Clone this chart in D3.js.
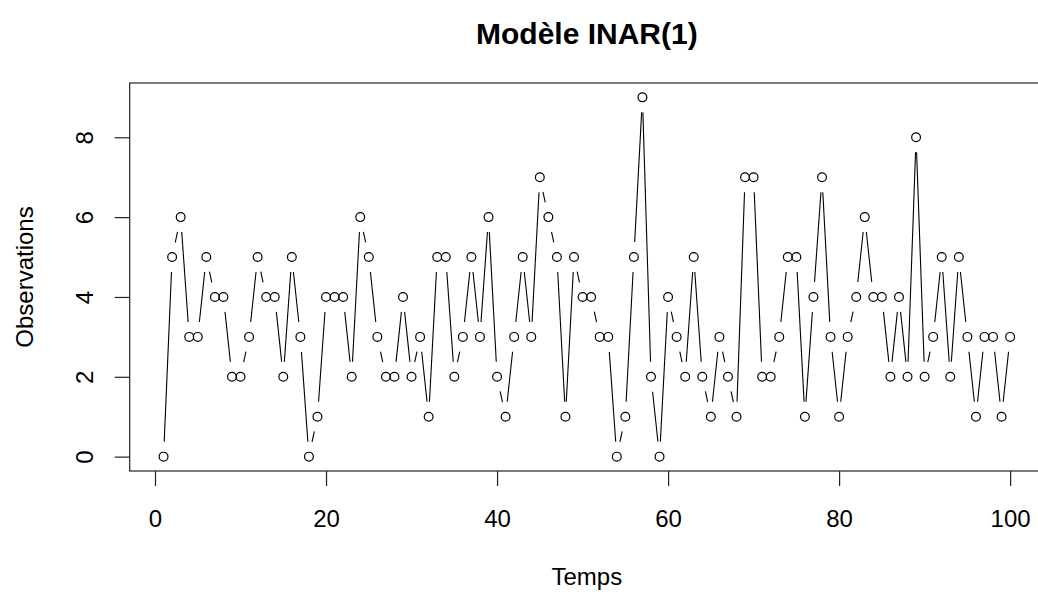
<!DOCTYPE html>
<html>
<head>
<meta charset="utf-8">
<script src="https://cdn.jsdelivr.net/npm/d3@7"></script>
<style>
  body { margin: 0; background: #fff; }
  text { font-family: "Liberation Sans", Arial, sans-serif; fill: #000; }
</style>
</head>
<body>
<script>
// observed counts, t = 1..100
const observations = [
  0, 5, 6, 3, 3, 5, 4, 4, 2, 2,
  3, 5, 4, 4, 2, 5, 3, 0, 1, 4,
  4, 4, 2, 6, 5, 3, 2, 2, 4, 2,
  3, 1, 5, 5, 2, 3, 5, 3, 6, 2,
  1, 3, 5, 3, 7, 6, 5, 1, 5, 4,
  4, 3, 3, 0, 1, 5, 9, 2, 0, 4,
  3, 2, 5, 2, 1, 3, 2, 1, 7, 7,
  2, 2, 3, 5, 5, 1, 4, 7, 3, 1,
  3, 4, 6, 4, 4, 2, 4, 2, 8, 2,
  3, 5, 2, 5, 3, 1, 3, 3, 1, 3
];
const xTicks = [0, 20, 40, 60, 80, 100];
const yTicks = [0, 2, 4, 6, 8];
const title = "Modèle INAR(1)";
const xLabel = "Temps";
const yLabel = "Observations";

const width = 1038, height = 595;
// plot region (box) in pixels
const box = { left: 129.7, right: 1044, top: 83, bottom: 471 };

const points = observations.map((v, i) => ({ t: i + 1, v: v }));

// R-style 4% range extension
const xExt = d3.extent(points, d => d.t), yExt = d3.extent(points, d => d.v);
const xPad = (xExt[1] - xExt[0]) * 0.04, yPad = (yExt[1] - yExt[0]) * 0.04;

const x = d3.scaleLinear().domain([xExt[0] - xPad, xExt[1] + xPad]).range([box.left, box.right]);
const y = d3.scaleLinear().domain([yExt[0] - yPad, yExt[1] + yPad]).range([box.bottom, box.top]);

const svg = d3.select("body").append("svg")
    .attr("width", width)
    .attr("height", height);

// lines between points, with a gap round each point (type = "b")
const gap = 15;
const segs = [];
for (let i = 1; i < points.length; i++) {
    const x1 = x(points[i - 1].t), y1 = y(points[i - 1].v);
    const x2 = x(points[i].t), y2 = y(points[i].v);
    const len = Math.hypot(x2 - x1, y2 - y1);
    if (len <= 2 * gap) continue;
    const ux = (x2 - x1) / len, uy = (y2 - y1) / len;
    segs.push([x1 + ux * gap, y1 + uy * gap, x2 - ux * gap, y2 - uy * gap]);
}
svg.append("g").selectAll("line")
    .data(segs)
    .enter().append("line")
    .attr("x1", d => d[0]).attr("y1", d => d[1])
    .attr("x2", d => d[2]).attr("y2", d => d[3])
    .style("stroke", "#000")
    .style("stroke-width", 1.1);

// open circles
svg.append("g").selectAll("circle")
    .data(points)
    .enter().append("circle")
    .attr("cx", d => x(d.t))
    .attr("cy", d => y(d.v))
    .attr("r", 4.4)
    .style("fill", "none")
    .style("stroke", "#000")
    .style("stroke-width", 1.2);

// box
svg.append("rect")
    .attr("x", box.left).attr("y", box.top)
    .attr("width", box.right - box.left).attr("height", box.bottom - box.top)
    .style("fill", "none")
    .style("stroke", "#222")
    .style("stroke-width", 1.2);

// x axis
svg.append("g")
    .attr("transform", "translate(0," + box.bottom + ")")
    .call(d3.axisBottom(x).tickValues(xTicks).tickSize(15).tickFormat(d3.format("d")))
    .call(g => g.select(".domain").remove())
    .call(g => g.selectAll(".tick line").style("stroke", "#222").style("stroke-width", 1.2))
    .call(g => g.selectAll(".tick text")
        .attr("y", 56).attr("dy", 0)
        .style("font-size", "24px")
        .style("font-family", "'Liberation Sans', Arial, sans-serif")
        .style("fill", "#000"));

// y axis, labels rotated as in R
svg.append("g")
    .attr("transform", "translate(" + box.left + ",0)")
    .call(d3.axisLeft(y).tickValues(yTicks).tickSize(15).tickFormat(d3.format("d")))
    .call(g => g.select(".domain").remove())
    .call(g => g.selectAll(".tick line").style("stroke", "#222").style("stroke-width", 1.2))
    .call(g => g.selectAll(".tick text")
        .attr("x", 0).attr("y", -37).attr("dy", 0)
        .attr("transform", "rotate(-90)")
        .style("text-anchor", "middle")
        .style("font-size", "24px")
        .style("font-family", "'Liberation Sans', Arial, sans-serif")
        .style("fill", "#000"));

const cx = (box.left + box.right) / 2;

svg.append("text")
    .attr("x", cx).attr("y", 44)
    .style("text-anchor", "middle")
    .style("font-size", "30px")
    .style("font-weight", "bold")
    .text(title);

svg.append("text")
    .attr("x", cx).attr("y", 585)
    .style("text-anchor", "middle")
    .style("font-size", "24px")
    .text(xLabel);

svg.append("text")
    .attr("transform", "translate(33," + (box.top + box.bottom) / 2 + ") rotate(-90)")
    .style("text-anchor", "middle")
    .style("font-size", "24px")
    .text(yLabel);
</script>
</body>
</html>
